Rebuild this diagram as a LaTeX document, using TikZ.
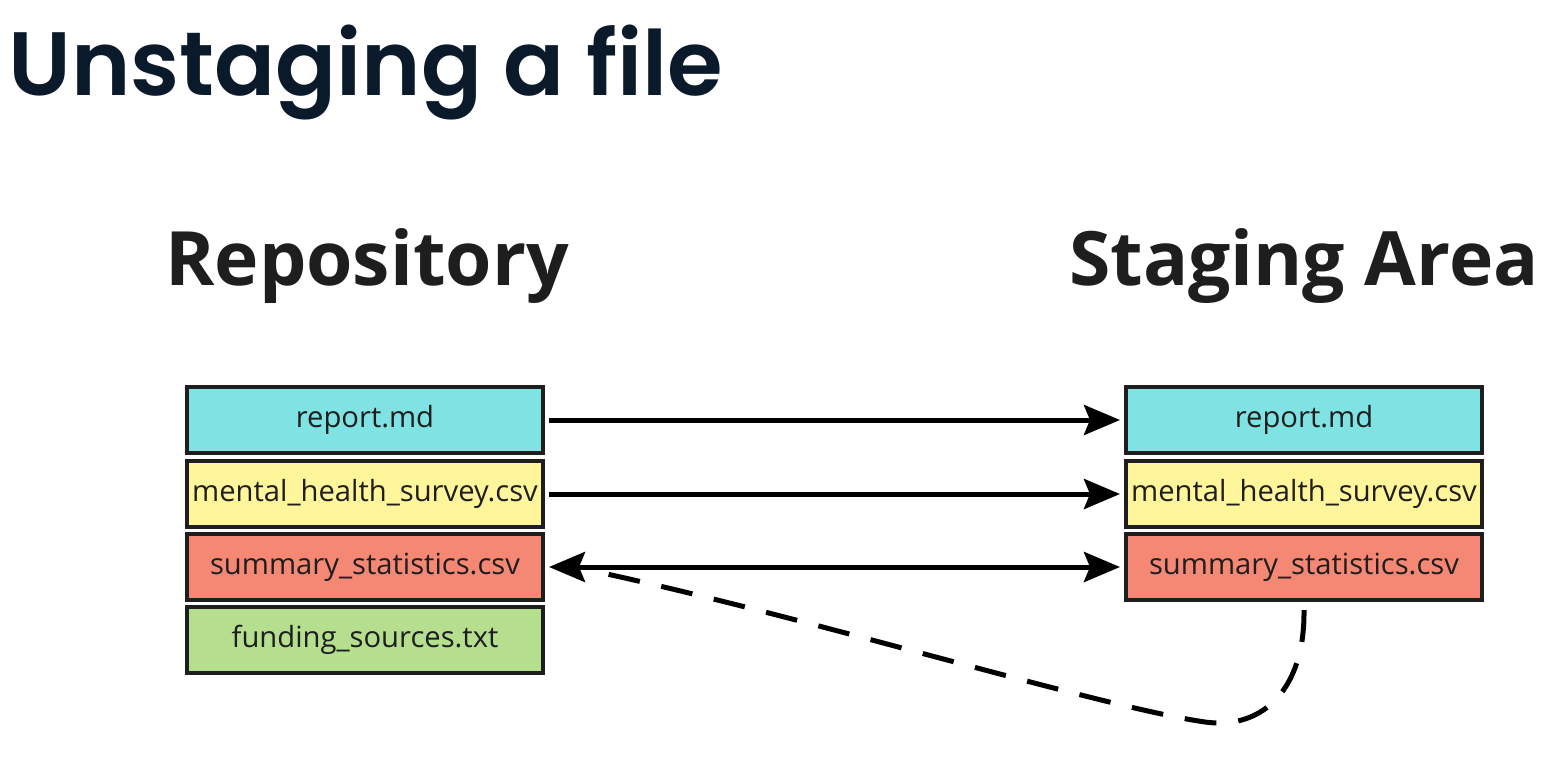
\documentclass[tikz,border=0pt]{standalone}
\usepackage{fontspec}
\setmainfont{Open Sans}
\newfontfamily\titlefont{Poppins SemiBold}
\usetikzlibrary{arrows.meta}

\definecolor{titleink}{HTML}{0B1A2A}
\definecolor{textink}{HTML}{1E1E1E}
\definecolor{repcyan}{HTML}{7FE2E3}
\definecolor{survyellow}{HTML}{FFF69B}
\definecolor{sumsalmon}{HTML}{F48874}
\definecolor{fundgreen}{HTML}{B5DF8E}

\tikzset{
  filebox/.style={draw=textink, line width=2pt, minimum width=178pt, minimum height=33pt,
    inner sep=0pt, text=textink, font=\fontsize{14.6}{17}\selectfont},
  heading/.style={anchor=base, text=textink, font=\bfseries\fontsize{37.5}{44}\selectfont},
  moveline/.style={line width=2.5pt, -{Stealth[length=18pt, width=15pt, inset=3pt]}, shorten <=2pt, shorten >=2pt},
  backline/.style={line width=2.5pt, dash pattern=on 16pt off 11pt}
}

\begin{document}
\begin{tikzpicture}[x=0.5pt, y=-0.5pt]

  \useasboundingbox (0,0) rectangle (1544,772);

  % -- Title --
  \node[anchor=base west, inner sep=0pt, text=titleink, font=\titlefont\fontsize{45}{54}\selectfont] (title) at (8,95) {Unstaging a file};

  % -- Column headings --
  \node[heading] (repohead) at (367,285) {Repository};
  \node[heading] (stagehead) at (1304,285) {Staging Area};

  % -- Repository files --
  \node[filebox, fill=repcyan] (repL) at (365,420) {report.md};
  \node[filebox, fill=survyellow] (survL) at (365,494) {mental\_health\_survey.csv};
  \node[filebox, fill=sumsalmon] (sumL) at (365,567) {summary\_statistics.csv};
  \node[filebox, fill=fundgreen] (fundL) at (365,640) {funding\_sources.txt};

  % -- Staging area files --
  \node[filebox, fill=repcyan] (repR) at (1304,420) {report.md};
  \node[filebox, fill=survyellow] (survR) at (1304,494) {mental\_health\_survey.csv};
  \node[filebox, fill=sumsalmon] (sumR) at (1304,567) {summary\_statistics.csv};

  % -- Staged arrows --
  \draw[moveline] (repL) -- (repR);
  \draw[moveline] (survL) -- (survR);
  \draw[moveline, {Stealth[length=18pt, width=15pt, inset=3pt]}-{Stealth[length=18pt, width=15pt, inset=3pt]}] (sumL) -- (sumR);

  % -- Unstage path --
  \coordinate (dip) at (1205,722);
  \draw[backline] ([yshift=-4pt]sumR.south) .. controls (1305,690) and (1262,730) .. (dip)
    .. controls (1100,707) and (800,615) .. ([xshift=24pt,yshift=-2pt]sumL.east);

\end{tikzpicture}
\end{document}
